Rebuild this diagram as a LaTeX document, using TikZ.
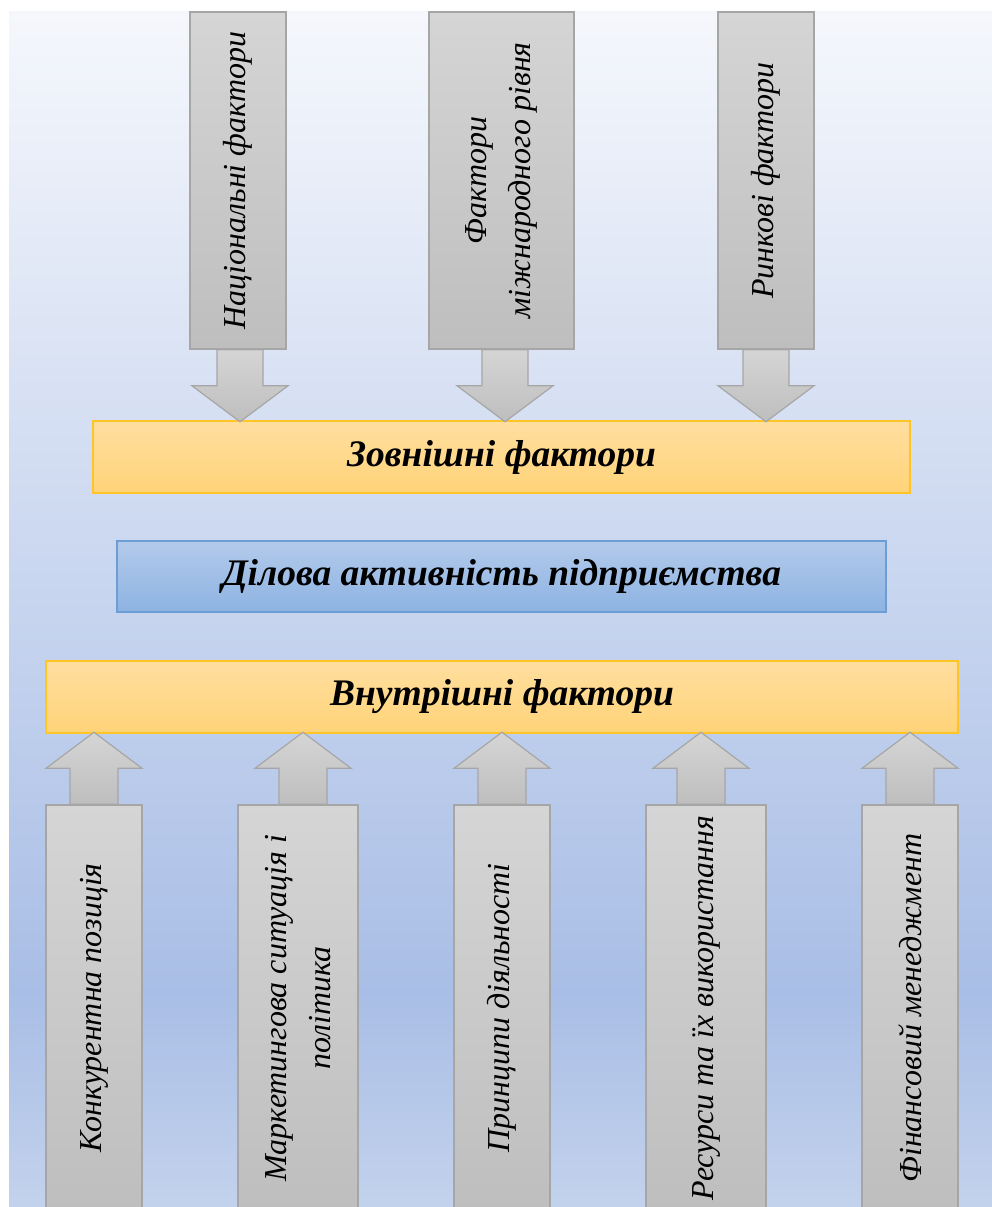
\documentclass[tikz,border=0pt]{standalone}
\usepackage{fontspec}
\setmainfont{Liberation Serif}
\usetikzlibrary{calc}

\definecolor{bgtop}{HTML}{F5F7FC}
\definecolor{bgmid}{HTML}{A9BEE6}
\definecolor{bgbot}{HTML}{C3D2EC}
\definecolor{greytop}{HTML}{D5D5D5}
\definecolor{greybot}{HTML}{BEBEBE}
\definecolor{greyline}{HTML}{A6A6A6}
\definecolor{goldtop}{HTML}{FFDF9F}
\definecolor{goldbot}{HTML}{FFD378}
\definecolor{goldline}{HTML}{FFC425}
\definecolor{bluetop}{HTML}{B3CAEB}
\definecolor{bluebot}{HTML}{8DB3E2}
\definecolor{blueline}{HTML}{6C9DD5}

\pgfdeclareverticalshading{bg_shade}{100bp}{color(0bp)=(bgbot); color(25bp)=(bgbot);
  color(34bp)=(bgmid); color(75bp)=(bgtop); color(100bp)=(bgtop)}

% block arrows, #1 is the point on the box edge
\newcommand{\downarr}[1]{\draw [arrow_style] (#1) ++(-23,0) -- ++(46,0) -- ++(0,36)
  -- ++(25,0) -- ++(-48,36) -- ++(-48,-36) -- ++(25,0) -- cycle;}
\newcommand{\uparr}[1]{\draw [arrow_style] (#1) ++(-24,0) -- ++(48,0) -- ++(0,-36)
  -- ++(24,0) -- ++(-48,-36) -- ++(-48,36) -- ++(24,0) -- cycle;}

\begin{document}
\begin{tikzpicture}[x=1pt, y=-1pt,
        factor_style/.style={rectangle, rotate=90, draw=greyline, line width=1.5pt,
            top color=greytop, bottom color=greybot, align=center, inner sep=2pt,
            font=\fontsize{32}{44}\selectfont\itshape},
        level_style/.style={rectangle, draw=goldline, line width=1.5pt,
            top color=goldtop, bottom color=goldbot,
            font=\fontsize{37.5}{42}\selectfont\bfseries\itshape},
        core_style/.style={rectangle, draw=blueline, line width=1.2pt,
            top color=bluetop, bottom color=bluebot,
            font=\fontsize{37.5}{42}\selectfont\bfseries\itshape},
        arrow_style/.style={draw=greyline, line width=1.2pt, top color=greytop, bottom color=greybot}]

        \useasboundingbox (0,0) rectangle (992,1207);
        \clip (0,0) rectangle (992,1207);
        \fill [shading=bg_shade] (9,12) rectangle (992,1207);

        % external factors (rotated: west anchor is the bottom edge)
        \node [factor_style, minimum width=337, minimum height=96](f1) at (238,180.5) {Національні фактори};

        \node [factor_style, minimum width=337, minimum height=145](f2) at (501.5,180.5) {Фактори\\міжнародного рівня};

        \node [factor_style, minimum width=337, minimum height=96](f3) at (766,180.5) {Ринкові фактори};

        \node [level_style, minimum width=817, minimum height=72](ext) at (501.5,457) {Зовнішні фактори};

        \node [core_style, minimum width=769, minimum height=71](core) at (501.5,576.5) {Ділова активність підприємства};

        \node [level_style, minimum width=912, minimum height=72](int) at (502,697) {Внутрішні фактори};

        % internal factors (rotated: east anchor is the top edge)
        \node [factor_style, minimum width=406, minimum height=96](g1) at (94,1008) {Конкурентна позиція};

        \node [factor_style, minimum width=406, minimum height=120](g2) at (298,1008) {Маркетингова ситуація і\\політика};

        \node [factor_style, minimum width=406, minimum height=96](g3) at (502,1008) {Принципи діяльності};

        \node [factor_style, minimum width=406, minimum height=120](g4) at (706,1008) {Ресурси та їх використання};

        \node [factor_style, minimum width=406, minimum height=96](g5) at (910,1008) {Фінансовий менеджмент};

        \downarr{[xshift=2pt]f1.west}
        \downarr{[xshift=3.5pt]f2.west}
        \downarr{f3.west}

        \uparr{g1.east}
        \uparr{[xshift=5pt]g2.east}
        \uparr{g3.east}
        \uparr{[xshift=-5pt]g4.east}
        \uparr{g5.east}

        \end{tikzpicture}
\end{document}
